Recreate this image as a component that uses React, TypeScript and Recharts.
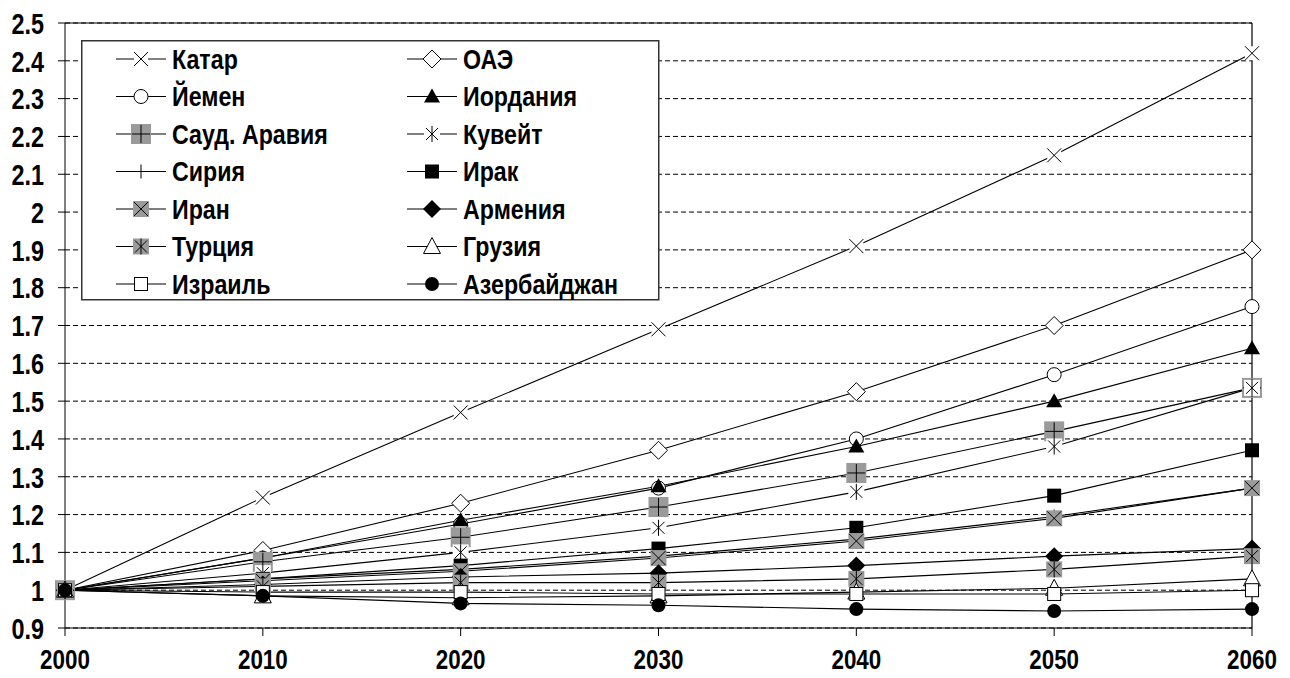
import React from 'react';
import { LineChart, Line, XAxis, YAxis, CartesianGrid, ReferenceLine, Legend } from 'recharts';

const years = [2000, 2010, 2020, 2030, 2040, 2050, 2060];
const yTicks = [0.9, 1, 1.1, 1.2, 1.3, 1.4, 1.5, 1.6, 1.7, 1.8, 1.9, 2, 2.1, 2.2, 2.3, 2.4, 2.5];

const qatar = [1, 1.245, 1.47, 1.69, 1.91, 2.15, 2.42];
const uae = [1, 1.105, 1.23, 1.37, 1.525, 1.7, 1.9];
const yemen = [1, 1.085, 1.175, 1.27, 1.4, 1.57, 1.75];
const jordan = [1, 1.085, 1.185, 1.275, 1.38, 1.5, 1.64];
const saudi = [1, 1.075, 1.14, 1.22, 1.31, 1.42, 1.535];
const kuwait = [1, 1.045, 1.1, 1.165, 1.26, 1.38, 1.535];
const syria = [1, 1.03, 1.055, 1.09, 1.135, 1.195, 1.27];
const iraq = [1, 1.03, 1.065, 1.11, 1.165, 1.25, 1.37];
const iran = [1, 1.025, 1.05, 1.085, 1.13, 1.19, 1.27];
const armenia = [1, 1.015, 1.035, 1.045, 1.065, 1.09, 1.11];
const turkey = [1, 1.01, 1.02, 1.02, 1.03, 1.055, 1.09];
const georgia = [1, 0.985, 0.98, 0.985, 0.995, 1.005, 1.03];
const israel = [1, 0.995, 0.995, 0.99, 0.99, 0.99, 1.0];
const azerbaijan = [1, 0.985, 0.965, 0.96, 0.95, 0.945, 0.95];

// series order = Excel order (legend fills row by row)
const series = [
  { id: 'qatar', name: 'Катар', values: qatar, marker: 'x' },
  { id: 'uae', name: 'ОАЭ', values: uae, marker: 'diamondOpen' },
  { id: 'yemen', name: 'Йемен', values: yemen, marker: 'circleOpen' },
  { id: 'jordan', name: 'Иордания', values: jordan, marker: 'triFilled' },
  { id: 'saudi', name: 'Сауд. Аравия', values: saudi, marker: 'grayPlus' },
  { id: 'kuwait', name: 'Кувейт', values: kuwait, marker: 'asterisk' },
  { id: 'syria', name: 'Сирия', values: syria, marker: 'plus' },
  { id: 'iraq', name: 'Ирак', values: iraq, marker: 'squareFilled' },
  { id: 'iran', name: 'Иран', values: iran, marker: 'grayX' },
  { id: 'armenia', name: 'Армения', values: armenia, marker: 'diamondFilled' },
  { id: 'turkey', name: 'Турция', values: turkey, marker: 'grayAsterisk' },
  { id: 'georgia', name: 'Грузия', values: georgia, marker: 'triOpen' },
  { id: 'israel', name: 'Израиль', values: israel, marker: 'squareOpen' },
  { id: 'azerbaijan', name: 'Азербайджан', values: azerbaijan, marker: 'circleFilled' },
];

const data = years.map((year, i) => {
  const row: Record<string, number> = { year };
  series.forEach((s) => { row[s.id] = s.values[i]; });
  return row;
});

// no narrow font installed: squeeze Liberation Sans bold horizontally
const FONT = "'Liberation Sans', Arial, sans-serif";
const GRAY = '#9a9a9a';

function drawMarker(kind: string, cx: number, cy: number) {
  switch (kind) {
    case 'x':
      return (
        <g>
          <rect x={cx - 7} y={cy - 7} width={14} height={14} fill="#fff" />
          <path d={`M${cx - 7},${cy - 7}L${cx + 7},${cy + 7}M${cx + 7},${cy - 7}L${cx - 7},${cy + 7}`} stroke="#000" strokeWidth={1} />
        </g>
      );
    case 'diamondOpen':
      return <polygon points={`${cx},${cy - 9} ${cx + 9},${cy} ${cx},${cy + 9} ${cx - 9},${cy}`} fill="#fff" stroke="#000" strokeWidth={1} />;
    case 'diamondFilled':
      return <polygon points={`${cx},${cy - 9} ${cx + 9},${cy} ${cx},${cy + 9} ${cx - 9},${cy}`} fill="#000" />;
    case 'circleOpen':
      return <circle cx={cx} cy={cy} r={7} fill="#fff" stroke="#000" strokeWidth={1} />;
    case 'circleFilled':
      return <circle cx={cx} cy={cy} r={7} fill="#000" />;
    case 'triFilled':
      return <polygon points={`${cx},${cy - 8} ${cx + 8},${cy + 6} ${cx - 8},${cy + 6}`} fill="#000" />;
    case 'triOpen':
      return <polygon points={`${cx},${cy - 9} ${cx + 8.5},${cy + 7} ${cx - 8.5},${cy + 7}`} fill="#fff" stroke="#000" strokeWidth={1} />;
    case 'squareFilled':
      return <rect x={cx - 7} y={cy - 7} width={14} height={14} fill="#000" />;
    case 'squareOpen':
      return <rect x={cx - 6.5} y={cy - 6.5} width={13} height={13} fill="#fff" stroke="#000" strokeWidth={1} />;
    case 'grayPlus':
      return (
        <g>
          <rect x={cx - 10} y={cy - 10} width={20} height={20} fill={GRAY} />
          <path d={`M${cx - 9},${cy}L${cx + 9},${cy}M${cx},${cy - 9}L${cx},${cy + 9}`} stroke="#000" strokeWidth={1} />
        </g>
      );
    case 'asterisk':
      return (
        <g>
          <rect x={cx - 8} y={cy - 8} width={16} height={16} fill="#fff" />
          <path d={`M${cx - 6},${cy - 6}L${cx + 6},${cy + 6}M${cx + 6},${cy - 6}L${cx - 6},${cy + 6}M${cx},${cy - 8}L${cx},${cy + 8}`} stroke="#000" strokeWidth={1} />
        </g>
      );
    case 'plus':
      return (
        <g>
          <rect x={cx - 7} y={cy - 7} width={14} height={14} fill="#fff" />
          <path d={`M${cx - 7},${cy}L${cx + 7},${cy}M${cx},${cy - 7}L${cx},${cy + 7}`} stroke="#000" strokeWidth={1} />
        </g>
      );
    case 'grayX':
      return (
        <g>
          <rect x={cx - 8} y={cy - 8} width={16} height={16} fill={GRAY} />
          <path d={`M${cx - 7},${cy - 7}L${cx + 7},${cy + 7}M${cx + 7},${cy - 7}L${cx - 7},${cy + 7}`} stroke="#000" strokeWidth={1} />
        </g>
      );
    case 'grayAsterisk':
      return (
        <g>
          <rect x={cx - 8} y={cy - 8} width={16} height={16} fill={GRAY} />
          <path d={`M${cx - 6},${cy - 6}L${cx + 6},${cy + 6}M${cx + 6},${cy - 6}L${cx - 6},${cy + 6}M${cx},${cy - 8}L${cx},${cy + 8}`} stroke="#000" strokeWidth={1} />
        </g>
      );
    default:
      return null;
  }
}

const makeDot = (id: string, kind: string) => (props: any) => {
  const { cx, cy, index } = props;
  if (cx == null || cy == null) return <g key={`${id}-${index}`} />;
  return <g key={`${id}-${index}`}>{drawMarker(kind, cx, cy)}</g>;
};

const YTick = (props: any) => {
  const { x, y, payload } = props;
  return (
    <text transform={`translate(${x},${y}) scale(0.78,1)`} textAnchor="end" dy="0.36em"
      fontFamily={FONT} fontWeight="bold" fontSize={30} fill="#000">
      {payload.value}
    </text>
  );
};

const XTick = (props: any) => {
  const { x, y, payload } = props;
  return (
    <text transform={`translate(${x},${y}) scale(0.8,1)`} textAnchor="middle" dy="0.71em"
      fontFamily={FONT} fontWeight="bold" fontSize={28} fill="#000">
      {payload.value}
    </text>
  );
};

const LegendBox = () => (
  <svg width={580} height={262} style={{ display: 'block' }}>
    <rect x={0.75} y={0.75} width={577} height={259} fill="#fff" stroke="#333" strokeWidth={1.5} />
    {series.map((s, i) => {
      const col = i % 2;
      const row = Math.floor(i / 2);
      const x0 = col === 0 ? 35 : 326;
      const cy = 19 + row * 37.5;
      return (
        <g key={s.id}>
          <line x1={x0} x2={x0 + 50} y1={cy} y2={cy} stroke="#000" strokeWidth={1} />
          {drawMarker(s.marker, x0 + 25, cy)}
          <text transform={`translate(${x0 + 56},${cy}) scale(0.86,1)`} dy="0.36em"
            fontFamily={FONT} fontWeight="bold" fontSize={27} fill="#000">
            {s.name}
          </text>
        </g>
      );
    })}
  </svg>
);

export default function App() {
  return (
    <div style={{ position: 'absolute', left: 0, top: 0, width: 1290, height: 678, background: '#fff' }}>
      <LineChart width={1290} height={678} data={data} margin={{ top: 23, right: 38, bottom: 20, left: 5 }}>
        <CartesianGrid vertical={false} stroke="#000" strokeDasharray="5 3" />
        <XAxis
          dataKey="year"
          type="number"
          domain={[2000, 2060]}
          ticks={years}
          height={30}
          stroke="#000"
          tickSize={8}
          tickMargin={13}
          tick={<XTick />}
        />
        <YAxis
          type="number"
          domain={[0.9, 2.5]}
          ticks={yTicks}
          width={60}
          stroke="#000"
          tickSize={7}
          tickMargin={14}
          tick={<YTick />}
        />
        <ReferenceLine y={2.5} stroke="#000" strokeWidth={1.2} />
        <ReferenceLine x={2060} stroke="#000" strokeWidth={1.2} />
        <Legend
          layout="vertical"
          align="center"
          verticalAlign="middle"
          content={() => <LegendBox />}
          wrapperStyle={{ left: 81, top: 40, width: 580, height: 262 }}
        />
        {series.map((s) => (
          <Line
            key={s.id}
            type="linear"
            dataKey={s.id}
            name={s.name}
            stroke="#000"
            strokeWidth={1.1}
            dot={makeDot(s.id, s.marker)}
            activeDot={false}
            isAnimationActive={false}
          />
        ))}
      </LineChart>
    </div>
  );
}
